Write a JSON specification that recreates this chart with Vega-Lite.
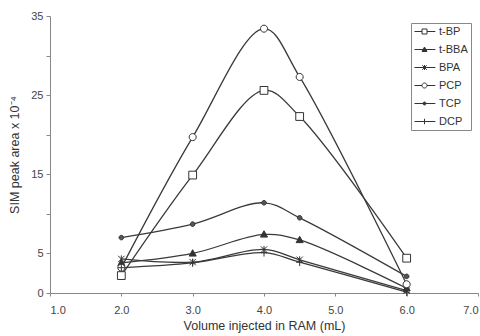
{
  "$schema": "https://vega.github.io/schema/vega-lite/v6.json",
  "width": 428,
  "height": 277,
  "autosize": {"type": "none"},
  "padding": {"left": 50, "top": 16, "right": 2, "bottom": 43},
  "background": "white",
  "config": {
    "view": {"stroke": null},
    "font": "Liberation Sans",
    "axis": {"domainColor": "#888", "tickColor": "#888", "labelColor": "#444", "titleColor": "#333", "labelFont": "Liberation Sans", "titleFont": "Liberation Sans", "titleFontWeight": "normal", "labelFontSize": 11, "titleFontSize": 12.5, "grid": false}
  },
  "data": {"values": [
    {"series": "t-BP", "volume": 2.0, "area": 2.2},
    {"series": "t-BP", "volume": 3.0, "area": 14.9},
    {"series": "t-BP", "volume": 4.0, "area": 25.6},
    {"series": "t-BP", "volume": 4.5, "area": 22.3},
    {"series": "t-BP", "volume": 6.0, "area": 4.4},
    {"series": "t-BBA", "volume": 2.0, "area": 3.8},
    {"series": "t-BBA", "volume": 3.0, "area": 5.0},
    {"series": "t-BBA", "volume": 4.0, "area": 7.4},
    {"series": "t-BBA", "volume": 4.5, "area": 6.7},
    {"series": "t-BBA", "volume": 6.0, "area": 0.6},
    {"series": "BPA", "volume": 2.0, "area": 4.3},
    {"series": "BPA", "volume": 3.0, "area": 3.9},
    {"series": "BPA", "volume": 4.0, "area": 5.5},
    {"series": "BPA", "volume": 4.5, "area": 4.2},
    {"series": "BPA", "volume": 6.0, "area": 0.3},
    {"series": "PCP", "volume": 2.0, "area": 3.2},
    {"series": "PCP", "volume": 3.0, "area": 19.7},
    {"series": "PCP", "volume": 4.0, "area": 33.4},
    {"series": "PCP", "volume": 4.5, "area": 27.3},
    {"series": "PCP", "volume": 6.0, "area": 1.1},
    {"series": "TCP", "volume": 2.0, "area": 7.0},
    {"series": "TCP", "volume": 3.0, "area": 8.7},
    {"series": "TCP", "volume": 4.0, "area": 11.4},
    {"series": "TCP", "volume": 4.5, "area": 9.5},
    {"series": "TCP", "volume": 6.0, "area": 2.1},
    {"series": "DCP", "volume": 2.0, "area": 3.2},
    {"series": "DCP", "volume": 3.0, "area": 3.8},
    {"series": "DCP", "volume": 4.0, "area": 5.1},
    {"series": "DCP", "volume": 4.5, "area": 3.9},
    {"series": "DCP", "volume": 6.0, "area": 0.1}
  ]},
  "encoding": {
    "x": {"field": "volume", "type": "quantitative", "scale": {"domain": [1, 7], "nice": false, "zero": false},
      "axis": {"title": "Volume injected in RAM (mL)", "values": [1, 2, 3, 4, 5, 6, 7], "format": ".1f", "tickSize": 3, "labelPadding": 8, "titlePadding": 4}},
    "y": {"field": "area", "type": "quantitative", "scale": {"domain": [0, 35], "nice": false},
      "axis": {"title": "SIM peak area x 10⁻⁴", "values": [0, 5, 10, 15, 20, 25, 30, 35], "labelExpr": "datum.value == 10 || datum.value == 20 || datum.value == 30 ? '' : datum.label", "tickSize": 4, "labelPadding": 3, "titlePadding": 9}}
  },
  "layer": [
    {
      "mark": {"type": "line", "interpolate": "catmull-rom", "stroke": "#3a3a3a", "strokeWidth": 1.3},
      "encoding": {"detail": {"field": "series"}}
    },
    {
      "mark": {"type": "point", "filled": true, "stroke": "#333", "strokeWidth": 1, "opacity": 1, "size": 50},
      "encoding": {
        "shape": {"field": "series", "type": "nominal", "legend": null,
          "scale": {"domain": ["t-BP", "t-BBA", "BPA", "PCP", "TCP", "DCP"],
            "range": [
              "M-1.1,-1.1H1.1V1.1H-1.1Z",
              "M0,-1.05L1,0.75H-1Z",
              "M-0.9,-0.9L0.9,0.9M-0.9,0.9L0.9,-0.9M0,-1L0,1",
              "M1,0A1,1 0 1 1 -1,0A1,1 0 1 1 1,0Z",
              "M0.65,0A0.65,0.65 0 1 1 -0.65,0A0.65,0.65 0 1 1 0.65,0Z",
              "M0,-1.1L0,1.1M-0.9,0L0.9,0"
            ]}},
        "fill": {"field": "series", "type": "nominal", "legend": null,
          "scale": {"domain": ["t-BP", "t-BBA", "BPA", "PCP", "TCP", "DCP"], "range": ["white", "#333", "#333", "white", "#555", "#333"]}}
      }
    },
    {
      "mark": {"type": "point", "filled": true, "stroke": "#333", "strokeWidth": 1, "fillOpacity": 0, "strokeOpacity": 0, "size": 144},
      "encoding": {
        "shape": {"field": "series", "type": "nominal",
          "scale": {"domain": ["t-BP", "t-BBA", "BPA", "PCP", "TCP", "DCP"],
            "range": [
              "M-1,0H0.5M1.5,0H3.17M0.5,-0.5H1.5V0.5H0.5Z",
              "M-1,0H3.17M1,-0.5L1.5,0.4H0.5Z",
              "M-1,0H3.17M0.55,-0.45L1.45,0.45M0.55,0.45L1.45,-0.45M1,-0.5V0.5",
              "M-1,0H0.5M1.5,0H3.17M1.5,0A0.5,0.5 0 1 1 0.5,0A0.5,0.5 0 1 1 1.5,0Z",
              "M-1,0H3.17M1.3,0A0.3,0.3 0 1 1 0.7,0A0.3,0.3 0 1 1 1.3,0Z",
              "M-1,0H3.17M1,-0.55V0.55"
            ]},
          "legend": {"title": null, "orient": "none", "legendX": 361, "legendY": 7, "padding": 3, "strokeColor": "#888", "fillColor": "white", "labelFontSize": 11, "labelColor": "#333", "labelFont": "Liberation Sans", "labelOffset": 14, "rowPadding": 6, "symbolStrokeWidth": 1,
            "encode": {"symbols": {"update": {"opacity": {"value": 1}, "fillOpacity": {"value": 1}, "strokeOpacity": {"value": 1}}}}}},
        "fill": {"field": "series", "type": "nominal",
          "scale": {"domain": ["t-BP", "t-BBA", "BPA", "PCP", "TCP", "DCP"], "range": ["white", "#333", "#333", "white", "#555", "#333"]},
          "legend": {"title": null}}
      }
    }
  ],
  "resolve": {"scale": {"shape": "independent", "fill": "independent"}, "legend": {"shape": "independent", "fill": "independent"}}
}
